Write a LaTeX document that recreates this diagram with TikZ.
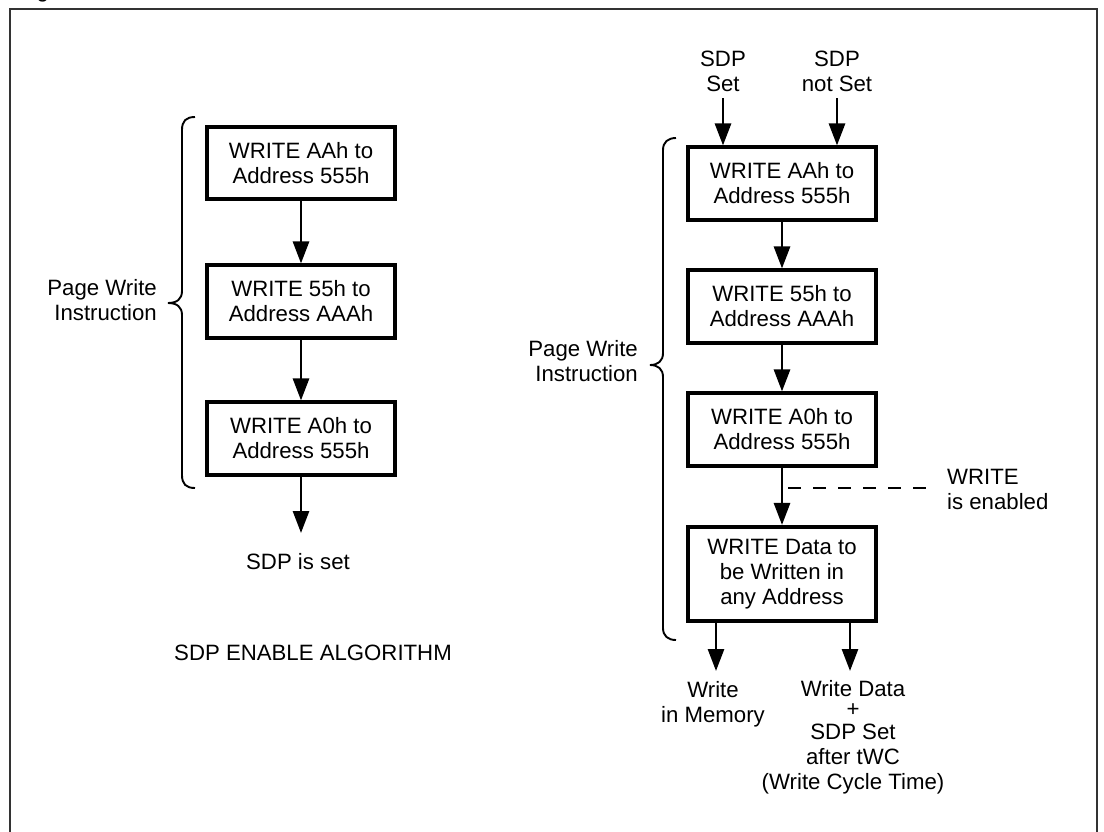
\documentclass[tikz,border=0pt]{standalone}
\usepackage{fontspec}
\setmainfont{Liberation Sans}
\usetikzlibrary{arrows.meta}
\begin{document}
\begin{tikzpicture}[x=1pt,y=-1pt,
  font=\fontsize{22.2}{25}\selectfont,
  box/.style={draw, line width=3.6pt, minimum width=187.5pt, minimum height=72.5pt, align=center, inner sep=0pt},
  arr/.style={line width=2.8pt, -{Triangle[length=22pt,width=16pt]}},
  lbl/.style={align=center, inner sep=0pt},
  brace/.style={line width=1.9pt},
  frame/.style={line width=1.6pt, draw=black!80}]
\useasboundingbox (0,0) rectangle (1104,831);
\draw[frame] (10,845) -- (10,9) -- (1097,9) -- (1097,845);
\node[anchor=base west, inner sep=0pt] (fig) at (18,-2.5) {Figure};

% left flow
\node[box] (l1) at (301,163) {WRITE AAh to\\Address 555h};
\node[box] (l2) at (301,301.5) {WRITE 55h to\\Address AAAh};
\node[box] (l3) at (301,438.5) {WRITE A0h to\\Address 555h};
\coordinate (lend) at (301,533);
\draw[arr] (l1) -- (l2);
\draw[arr] (l2) -- (l3);
\draw[arr] (l3) -- (lend);
\node[lbl] (sdpset) at (298,562) {SDP is set};
\node[lbl] (alg) at (313,653) {SDP ENABLE ALGORITHM};
\node[lbl, align=right, anchor=east] (pwl) at (157,300) {Page Write\\Instruction};
\draw[brace] (195,117) .. controls (186,117) and (182,121) .. (182,130) -- (182,291)
  .. controls (182,299) and (177,303) .. (168,303)
  .. controls (177,303) and (182,307) .. (182,315) -- (182,475)
  .. controls (182,484) and (186,488) .. (195,488);

% right flow
\node[box] (r1) at (782,183.5) {WRITE AAh to\\Address 555h};
\node[box] (r2) at (782,306.5) {WRITE 55h to\\Address AAAh};
\node[box] (r3) at (782,429.5) {WRITE A0h to\\Address 555h};
\node[box, minimum height=94.5pt] (r4) at (782,574) {WRITE Data to\\be Written in\\any Address};
\draw[arr] (r1) -- (r2);
\draw[arr] (r2) -- (r3);
\draw[arr] (r3) -- (r4);

\node[lbl] (sdp1) at (723,71.5) {SDP\\Set};
\node[lbl] (sdp2) at (837,71.5) {SDP\\not Set};
\coordinate (s1) at (723,98);
\coordinate (s2) at (837,98);
\draw[arr] (s1) -- (s1 |- r1.north);
\draw[arr] (s2) -- (s2 |- r1.north);

\coordinate (da) at (788,488);
\coordinate (db) at (927,488);
\draw[line width=1.5pt, dash pattern=on 13pt off 12pt] (da) -- (db);
\node[lbl, align=left, anchor=west] (wen) at (947,489.5) {WRITE\\is enabled};

\coordinate (c1) at (716,671);
\coordinate (c2) at (850,671);
\draw[arr] (r4.south -| c1) -- (c1);
\draw[arr] (r4.south -| c2) -- (c2);
\node[lbl] (wim) at (713,704) {Write\\in Memory};
\node[lbl, anchor=north] (wds) at (853,680) {Write Data\\[-5pt]+\\[-2pt]SDP Set\\after tWC\\(Write Cycle Time)};

\node[lbl, align=right, anchor=east] (pwr) at (638,361) {Page Write\\Instruction};
\draw[brace] (676,138) .. controls (668,138) and (663,142) .. (663,150) -- (663,353)
  .. controls (663,361) and (658,365) .. (650,365)
  .. controls (658,365) and (663,369) .. (663,377) -- (663,628)
  .. controls (663,636) and (668,640) .. (676,640);
\end{tikzpicture}
\end{document}
